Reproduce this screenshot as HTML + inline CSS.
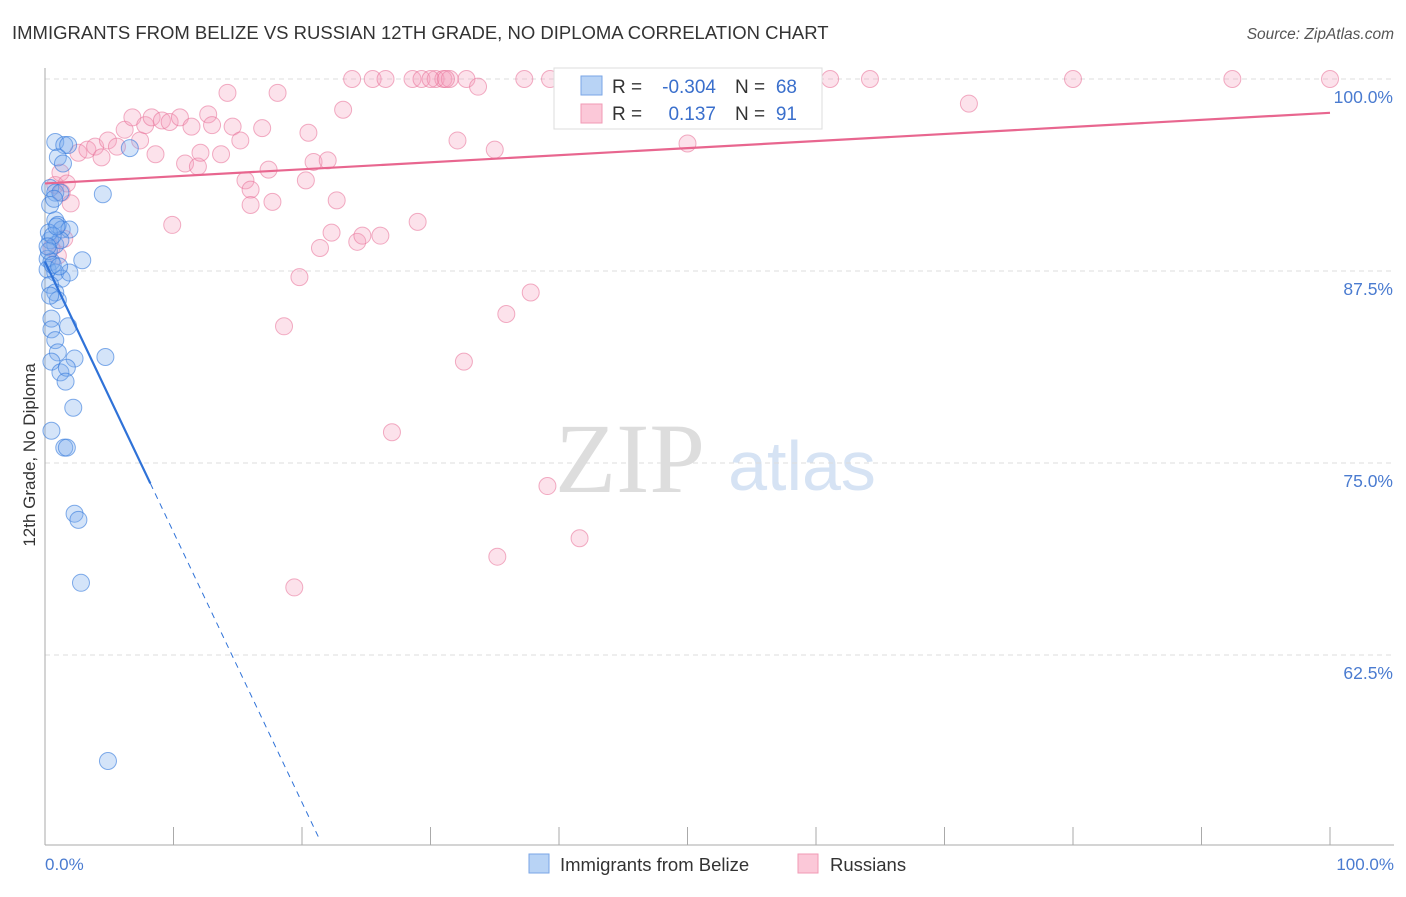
<!DOCTYPE html>
<html><head><meta charset="utf-8"><style>
body{margin:0;background:#fff;font-family:"Liberation Sans",sans-serif;}
svg text{font-family:"Liberation Sans",sans-serif;}
</style></head><body>
<svg id="c" width="1406" height="892">
<text x="12" y="39" font-size="18.5" fill="#333">IMMIGRANTS FROM BELIZE VS RUSSIAN 12TH GRADE, NO DIPLOMA CORRELATION CHART</text>
<text x="1394" y="39" font-size="15.5" fill="#555" font-style="italic" text-anchor="end">Source: ZipAtlas.com</text>
<text x="630" y="492" font-size="100" fill="#ddd" text-anchor="middle" style="font-family:'Liberation Serif',serif">ZIP</text>
<text x="802" y="490" font-size="70" fill="#d6e3f4" text-anchor="middle">atlas</text>
<g id="grid"></g><g id="axes"></g><g id="pts"></g><g id="lines"></g>
<text x="35" y="455" font-size="17" fill="#333" text-anchor="middle" transform="rotate(-90 35 455)">12th Grade, No Diploma</text>
<text x="45" y="870" font-size="17" fill="#4a7bd0">0.0%</text>
<text x="1394" y="870" font-size="17" fill="#4a7bd0" text-anchor="end">100.0%</text>
<g>
<rect x="554" y="68" width="268" height="61" fill="#fff" stroke="#ddd"/>
<rect x="581" y="76" width="21" height="19" fill="#b8d3f5" stroke="#7aa6e6"/>
<rect x="581" y="104" width="21" height="19" fill="#fbc8d8" stroke="#f09ab5"/>
<text x="612" y="93" font-size="19" fill="#333">R =</text>
<text x="716" y="93" font-size="19" fill="#3a6fcc" text-anchor="end">-0.304</text>
<text x="735" y="93" font-size="19" fill="#333">N =</text>
<text x="797" y="93" font-size="19" fill="#3a6fcc" text-anchor="end">68</text>
<text x="612" y="120" font-size="19" fill="#333">R =</text>
<text x="716" y="120" font-size="19" fill="#3a6fcc" text-anchor="end">0.137</text>
<text x="735" y="120" font-size="19" fill="#333">N =</text>
<text x="797" y="120" font-size="19" fill="#3a6fcc" text-anchor="end">91</text>
</g>
<g>
<rect x="529" y="854" width="20" height="19" fill="#b8d3f5" stroke="#7aa6e6"/>
<text x="560" y="871" font-size="18.5" fill="#333">Immigrants from Belize</text>
<rect x="798" y="854" width="20" height="19" fill="#fbc8d8" stroke="#f09ab5"/>
<text x="830" y="871" font-size="18.5" fill="#333">Russians</text>
</g>
</svg>
<script>
const yTicks=[100,87.5,75,62.5];
const yTickLabels=["100.0%","87.5%","75.0%","62.5%"];
const xTicks=[0,10,20,30,40,50,60,70,80,90,100];
const russiansX=[0.8,1.2,1.3,2.0,1.7,1.0,2.6,3.3,3.9,4.4,4.9,5.6,6.2,6.8,7.4,7.8,8.3,8.6,9.1,9.7,10.5,9.9,10.9,11.4,11.9,12.1,12.7,13.0,13.7,14.2,14.6,15.2,15.6,16.0,16.0,16.9,17.4,17.7,18.1,18.6,19.8,19.4,20.5,20.3,20.9,21.4,22.0,22.3,22.7,23.2,23.9,24.3,24.7,25.5,26.1,26.5,27.0,28.6,29.0,29.3,30.4,31.0,31.5,32.1,32.6,32.8,33.7,35.0,35.2,35.9,37.3,37.8,39.1,39.3,40.9,41.6,47.1,50.0,51.6,56.4,59.4,61.1,64.2,71.9,80.0,92.4,100,30.0,31.2,0.5,1.5];
const russiansY=[93.1,93.9,92.6,91.9,93.2,88.5,95.2,95.4,95.6,94.9,96.0,95.6,96.7,97.5,96.0,97.0,97.5,95.1,97.3,97.2,97.5,90.5,94.5,96.9,94.3,95.2,97.7,97.0,95.1,99.1,96.9,96.0,93.4,92.8,91.8,96.8,94.1,92.0,99.1,83.9,87.1,66.9,96.5,93.4,94.6,89.0,94.7,90.0,92.1,98.0,100,89.4,89.8,100,89.8,100,77.0,100,90.7,100,100,100,100,96.0,81.6,100,99.5,95.4,68.9,84.7,100,86.1,73.5,100,100,70.1,100,95.8,100,100,100,100,100,98.4,100,100,100,100,100,89.0,89.6];
const belizeX=[0.8,1.5,1.8,1.0,1.4,6.6,0.4,0.8,1.2,4.5,0.4,0.8,1.0,1.3,1.9,0.4,0.8,1.2,0.2,0.5,2.9,0.2,0.8,1.3,1.9,0.4,0.8,1.0,0.5,0.5,1.8,0.8,1.0,2.3,4.7,0.5,1.2,1.7,1.6,2.2,0.5,1.5,1.7,2.3,2.6,2.8,4.9,0.3,0.6,0.9,0.3,0.6,1.1,0.4,0.2,0.7];
const belizeY=[95.9,95.7,95.7,94.9,94.5,95.5,92.9,92.6,92.6,92.5,91.8,90.8,90.5,90.2,90.2,89.5,89.2,89.5,88.3,88.1,88.2,87.6,87.4,87.0,87.4,86.6,86.1,85.6,84.4,83.7,83.9,83.0,82.2,81.8,81.9,81.6,80.9,81.2,80.3,78.6,77.1,76.0,76.0,71.7,71.3,67.2,55.6,90.0,89.8,90.4,88.8,87.9,87.8,85.9,89.1,92.2];
const russiansTrend=[93.2,97.8];
const belizeTrend=[88.1,-1.76];
const NS="http://www.w3.org/2000/svg";
const xS=v=>45+v*12.85;
const yS=v=>79+(100-v)/12.5*192;
function mk(tag,attrs,parent){const e=document.createElementNS(NS,tag);for(const k in attrs)e.setAttribute(k,attrs[k]);document.getElementById(parent).appendChild(e);return e;}
yTicks.forEach((t,i)=>{
 const l=mk('line',{x1:45,x2:1394,y1:yS(t),y2:yS(t),stroke:'#ddd','stroke-dasharray':'5,4'},'grid');
 
 
 const tx=mk('text',{x:1393,y:yS(t)+24,'font-size':17.5,fill:'#4a7bd0','text-anchor':'end'},'grid');
 tx.textContent=yTickLabels[i];
 
 
});
const ya=mk('line',{x1:45,x2:45,y1:68,y2:845,stroke:'#aaa'},'axes');


const xa=mk('line',{x1:45,x2:1394,y1:845,y2:845,stroke:'#aaa'},'axes');


xTicks.forEach(t=>{
 const l=mk('line',{x1:xS(t),x2:xS(t),y1:827,y2:845,stroke:'#aaa'},'axes');
 
 
});
russiansX.forEach((x,i)=>{
 const c=mk('circle',{cx:xS(x),cy:yS(russiansY[i]),r:8.5,fill:'rgba(246,160,190,0.3)',stroke:'rgba(232,110,150,0.55)','stroke-width':1},'pts');
 
 
});
belizeX.forEach((x,i)=>{
 const c=mk('circle',{cx:xS(x),cy:yS(belizeY[i]),r:8.5,fill:'rgba(120,170,235,0.32)',stroke:'rgba(50,120,220,0.6)','stroke-width':1},'pts');
 
 
});
const rl=mk('line',{x1:xS(0),y1:yS(russiansTrend[0]),x2:xS(100),y2:yS(russiansTrend[1]),stroke:'#e8668f','stroke-width':2.2},'lines');


const bY=x=>belizeTrend[0]+belizeTrend[1]*x;
const bl=mk('line',{x1:xS(0),y1:yS(bY(0)),x2:xS(8.2),y2:yS(bY(8.2)),stroke:'#2f72d8','stroke-width':2.2},'lines');


const bd=mk('line',{x1:xS(8.2),y1:yS(bY(8.2)),x2:xS(21.4),y2:yS(bY(21.4)),stroke:'#2f72d8','stroke-width':1,'stroke-dasharray':'6,5'},'lines');


</script>
</body></html>
